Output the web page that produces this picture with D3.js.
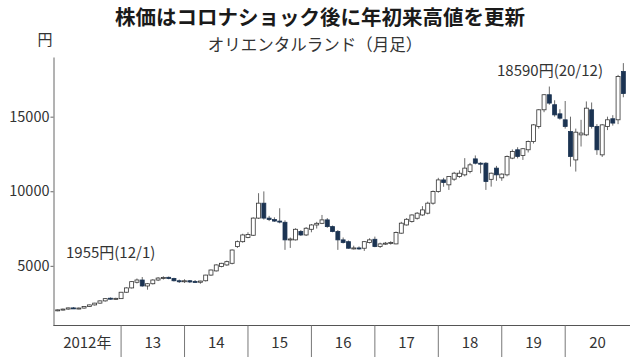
<!DOCTYPE html>
<html><head><meta charset="utf-8">
<script src="https://cdn.jsdelivr.net/npm/d3@7/dist/d3.min.js"></script>
<style>body{margin:0;background:#fff}text{font-family:"Noto Sans CJK JP","Noto Sans",sans-serif}</style>
</head><body>
<svg id="chart" width="638" height="357"></svg>
<script>
// Monthly OHLC, Oriental Land, Jan 2012 - Dec 2020 (yen, split adjusted)
const opens = [
 1990,2050,2100,2180,2160,2170,2280,2380,2500,2650,2830,2790,
 2800,3230,3520,3900,4050,3650,3800,4050,4180,4230,4150,4000,
 3950,4000,3950,3900,4000,4380,4660,4950,5060,5170,6290,6620,
 6900,7050,8200,9200,8200,8100,8000,7920,6740,6740,7300,7070,
 7450,7740,7850,8080,7630,7300,6740,6620,6180,6200,6180,6560,
 6780,6290,6470,6520,6470,7190,7740,7970,8190,8410,8530,9200,
 9980,10760,10430,10810,10990,11100,11320,12170,11880,11880,10800,11550,
 10900,11100,12220,12780,12400,12780,13330,14340,15460,16470,15800,15190,
 14790,14000,12100,13780,13780,15460,14340,12440,14340,14860,14790,18030];
const highs = [
 2070,2130,2200,2230,2200,2300,2400,2520,2680,2830,2880,2860,
 3250,3560,3980,4150,4250,3850,4100,4250,4300,4280,4200,4080,
 4100,4050,4050,4000,4400,4750,5100,5200,5350,6100,6700,7150,
 7250,8250,9870,9990,8350,8250,8860,8050,6900,7520,7400,7600,
 7800,7950,8410,8200,7700,7400,6900,6700,6350,6300,6650,6850,
 6960,6550,6600,6650,7300,7950,8200,8450,8600,9000,9300,10050,
 10900,10900,11000,11300,11400,12220,11900,12400,11950,11950,11250,11700,
 11200,12400,12800,12950,12900,13400,14500,15500,16500,17020,16100,15500,
 16050,15000,14200,14790,16020,15950,14500,14500,15000,15100,17800,18590];
const lows = [
 1955,2010,2060,2110,2090,2130,2250,2340,2460,2600,2740,2740,
 2780,3200,3480,3820,3600,3400,3750,3980,4080,4100,3950,3850,
 3850,3850,3880,3800,3950,4330,4620,4900,5000,5100,6200,6550,
 6850,7000,8150,8100,8000,7950,7850,6070,6200,6700,7000,7000,
 7250,7500,7800,7550,7250,6070,6500,6150,6100,6080,6000,6500,
 6250,6200,6400,6420,6450,7150,7700,7900,8100,8350,8450,9100,
 9900,10300,10090,10700,10900,11000,11200,11800,11200,10090,10310,10700,
 10700,11000,12150,12200,12100,12600,13200,14200,15300,15800,15000,14800,
 14200,11650,11320,13000,13700,14200,12440,12300,14100,14400,14500,16300];
const closes = [
 2050,2100,2180,2160,2170,2280,2380,2500,2650,2800,2790,2820,
 3230,3520,3940,4050,3650,3800,4050,4180,4220,4150,4000,3950,
 4000,3920,3900,3980,4380,4720,5060,5170,5280,6060,6620,7070,
 7100,8200,9200,8200,8100,8000,7950,6740,6800,7450,7070,7520,
 7740,7850,8080,7630,7300,6740,6560,6180,6200,6180,6620,6740,
 6290,6470,6520,6560,7230,7860,8120,8410,8530,8750,9200,9980,
 10760,10580,10990,11210,11210,11550,11770,11880,11850,10650,11210,11100,
 11150,12330,12660,12330,12850,13330,14450,15460,16470,15910,15120,14900,
 14340,12330,13960,13900,15570,14340,12780,14450,14790,14570,17690,16550];

const firstYear = 2012;
const yearLabels = ["2012年","13","14","15","16","17","18","19","20"];
const yTicks = [5000, 10000, 15000];
const title = "株価はコロナショック後に年初来高値を更新";
const subtitle = "オリエンタルランド（月足）";
const unitLabel = "円";
const lowNote = "1955円(12/1)";
const highNote = "18590円(20/12)";

const months = opens.map((_, i) => `${firstYear + Math.floor(i / 12)}/${i % 12 + 1}`);
const candles = months.map((m, i) => ({m, o: opens[i], h: highs[i], l: lows[i], c: closes[i]}));

const svg = d3.select("#chart");
const axisLeftX = 53.5, axisBottomY = 325.5, axisRight = 630;

const x = d3.scaleBand().domain(months).range([55, 626]).paddingInner(0.25).paddingOuter(0.125);
const y = d3.scaleLinear().domain([1000, 19000]).range([axisBottomY, 57]);

// titles
svg.append("text").attr("x", 320).attr("y", 24.5).attr("text-anchor", "middle")
  .attr("font-size", 20.5).attr("font-weight", 700).attr("fill", "#1a1a1a").text(title);
svg.append("text").attr("x", 315).attr("y", 51).attr("text-anchor", "middle")
  .attr("font-size", 16.5).attr("fill", "#333").text(subtitle);
svg.append("text").attr("x", 45).attr("y", 45).attr("text-anchor", "middle")
  .attr("font-size", 15).attr("fill", "#333").text(unitLabel);

// y axis
const yAxis = svg.append("g").attr("transform", `translate(${axisLeftX},0)`)
  .call(d3.axisLeft(y).tickValues(yTicks).tickSize(3).tickSizeOuter(0).tickPadding(1).tickFormat(d3.format("d")));
yAxis.select(".domain").attr("stroke", "#666");
yAxis.selectAll(".tick line").attr("stroke", "#666");
yAxis.selectAll(".tick text").attr("font-size", 14.5).attr("fill", "#333")
  .style("font-family", '"Noto Sans CJK JP",sans-serif');

// x axis line
svg.append("line").attr("x1", axisLeftX).attr("x2", axisRight)
  .attr("y1", axisBottomY).attr("y2", axisBottomY).attr("stroke", "#555").attr("stroke-width", 1);

// year separators and labels
const bw = x.bandwidth();
const sepX = yearLabels.slice(1).map((_, k) => x(months[(k + 1) * 12]) + bw / 2);
svg.selectAll("line.sep").data(sepX).join("line").attr("class", "sep")
  .attr("x1", d => d).attr("x2", d => d).attr("y1", axisBottomY).attr("y2", 357)
  .attr("stroke", "#777").attr("stroke-width", 1);
const bounds = [axisLeftX, ...sepX, axisRight];
svg.selectAll("text.yr").data(yearLabels).join("text").attr("class", "yr")
  .attr("x", (d, i) => (bounds[i] + bounds[i + 1]) / 2).attr("y", 348)
  .attr("text-anchor", "middle").attr("font-size", 15).attr("fill", "#333").text(d => d);

// candles
const g = svg.append("g");
g.selectAll("line.wick").data(candles).join("line").attr("class", "wick")
  .attr("x1", d => x(d.m) + bw / 2).attr("x2", d => x(d.m) + bw / 2)
  .attr("y1", d => y(d.h)).attr("y2", d => y(d.l))
  .attr("stroke", "#444").attr("stroke-width", 0.8);
g.selectAll("rect.body").data(candles).join("rect").attr("class", "body")
  .attr("x", d => x(d.m)).attr("width", bw)
  .attr("y", d => y(Math.max(d.o, d.c)))
  .attr("height", d => Math.max(1, Math.abs(y(d.o) - y(d.c))))
  .attr("fill", d => d.c >= d.o ? "#fff" : "#1b3352")
  .attr("stroke", d => d.c >= d.o ? "#333" : "#1b3352").attr("stroke-width", 0.8);

// annotations
svg.append("text").attr("x", 66).attr("y", 258).attr("font-size", 15).attr("fill", "#333").text(lowNote);
svg.append("text").attr("x", 497).attr("y", 76).attr("font-size", 15).attr("fill", "#333").text(highNote);
</script>
</body></html>
